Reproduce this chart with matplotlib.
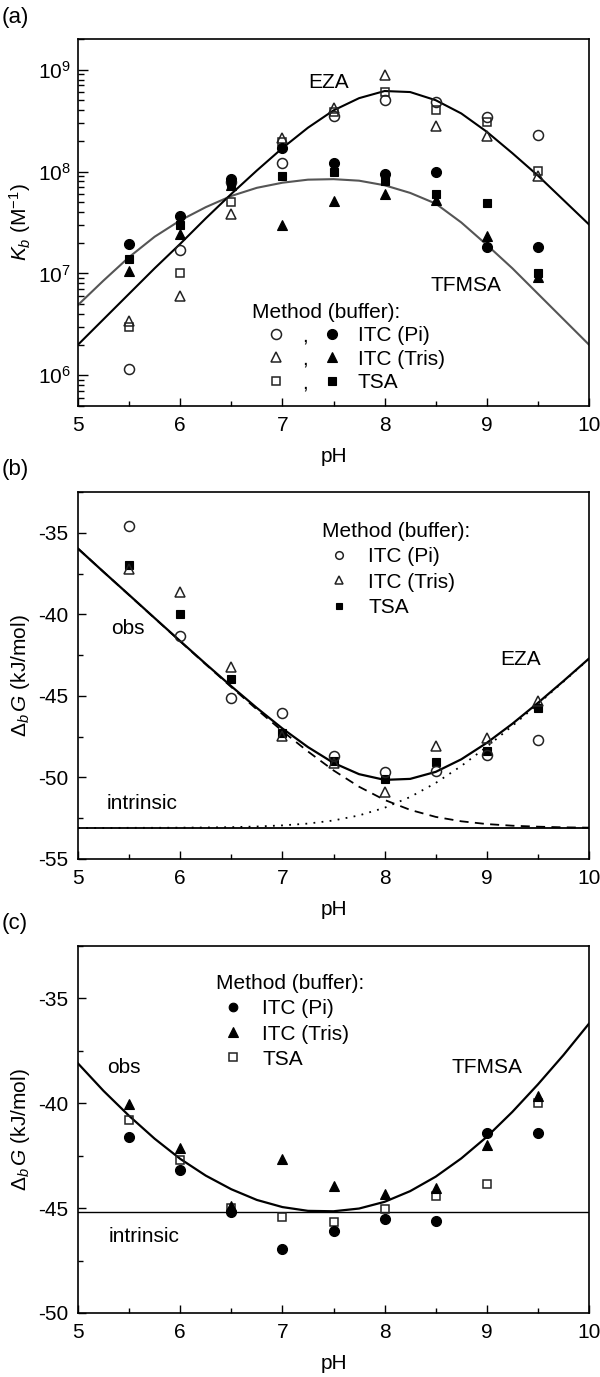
import matplotlib
matplotlib.use('Agg')
import matplotlib.pyplot as plt
from matplotlib.lines import Line2D
from matplotlib.ticker import LogLocator, MultipleLocator, NullFormatter

plt.rcParams['font.family'] = ['Liberation Sans', 'DejaVu Sans']
plt.rcParams['mathtext.fontset'] = 'custom'
plt.rcParams['mathtext.rm'] = 'Liberation Sans'
plt.rcParams['mathtext.it'] = 'Liberation Sans:italic'
plt.rcParams['axes.unicode_minus'] = False
plt.rcParams['font.size'] = 15

# measured pH values
ph = [5.5, 6.0, 6.5, 7.0, 7.5, 8.0, 8.5, 9.0, 9.5]

# (a) Kb (M^-1), EZA = open symbols, TFMSA = filled symbols
eza_pi = [1.16e6, 1.69e7, 7.9e7, 1.2e8, 3.5e8, 5.0e8, 4.8e8, 3.4e8, 2.3e8]
eza_tris = [3.4e6, 6.0e6, 3.8e7, 2.15e8, 4.2e8, 8.8e8, 2.8e8, 2.25e8, 9.0e7]
eza_tsa = [2.95e6, 1.0e7, 5.0e7, 1.95e8, 3.85e8, 6.0e8, 4.0e8, 3.05e8, 1.02e8]
tfmsa_pi = [1.96e7, 3.65e7, 8.4e7, 1.72e8, 1.2e8, 9.4e7, 9.8e7, 1.8e7, 1.8e7]
tfmsa_tris = [1.05e7, 2.42e7, 7.4e7, 3.0e7, 5.1e7, 6.0e7, 5.3e7, 2.35e7, 9.3e6]
tfmsa_tsa = [1.4e7, 3.0e7, 7.7e7, 9.0e7, 1.0e8, 8.0e7, 6.0e7, 4.9e7, 1.0e7]

# fitted curves
ph_fit = [5.0, 5.25, 5.5, 5.75, 6.0, 6.25, 6.5, 6.75, 7.0, 7.25, 7.5,
          7.75, 8.0, 8.25, 8.5, 8.75, 9.0, 9.25, 9.5, 9.75, 10.0]
eza_fit_logK = [6.30, 6.55, 6.80, 7.05, 7.29, 7.54, 7.78, 8.01, 8.23, 8.43, 8.60,
                8.72, 8.79, 8.78, 8.70, 8.57, 8.39, 8.18, 7.96, 7.72, 7.48]
tfmsa_fit_logK = [6.69, 6.93, 7.16, 7.36, 7.52, 7.65, 7.76, 7.84, 7.89, 7.92, 7.925,
                  7.91, 7.865, 7.79, 7.685, 7.50, 7.28, 7.05, 6.80, 6.55, 6.30]

# (b) EZA, dG (kJ/mol)
b_pi = [-34.6, -41.3, -45.1, -46.05, -48.7, -49.65, -49.6, -48.65, -47.7]
b_tris = [-37.2, -38.65, -43.2, -47.45, -49.1, -50.9, -48.1, -47.6, -45.3]
b_tsa = [-36.95, -40.0, -43.95, -47.3, -49.0, -50.1, -49.05, -48.4, -45.75]
b_obs = [-35.97, -37.40, -38.81, -40.23, -41.64, -43.04, -44.41, -45.74, -47.00, -48.14, -49.11,
         -49.80, -50.15, -50.09, -49.66, -48.89, -47.88, -46.71, -45.43, -44.09, -42.71]
b_dash = [-35.97, -37.40, -38.82, -40.24, -41.66, -43.07, -44.46, -45.83, -47.16, -48.41, -49.57,
          -50.57, -51.38, -51.99, -52.42, -52.69, -52.86, -52.96, -53.02, -53.06, -53.08]
b_dot = [-53.10, -53.10, -53.09, -53.09, -53.08, -53.07, -53.05, -53.01, -52.94, -52.83, -52.64,
         -52.33, -51.86, -51.20, -50.34, -49.30, -48.12, -46.84, -45.50, -44.13, -42.73]
b_intrinsic = -53.1

# (c) TFMSA, dG (kJ/mol)
c_pi = [-41.6, -43.2, -45.2, -46.95, -46.1, -45.5, -45.6, -41.4, -41.4]
c_tris = [-40.05, -42.15, -44.9, -42.65, -43.95, -44.35, -44.05, -42.0, -39.65]
c_tsa = [-40.8, -42.7, -45.0, -45.4, -45.65, -45.05, -44.4, -43.85, -40.0]
c_obs = [-38.1, -39.41, -40.6, -41.69, -42.65, -43.45, -44.1, -44.61, -44.95, -45.13, -45.15,
         -45.02, -44.7, -44.19, -43.5, -42.63, -41.6, -40.41, -39.1, -37.70, -36.2]
c_intrinsic = -45.2

edge = '#222222'
ms_c, ms_t, ms_s = 7.2, 7.6, 6.2


def style(ax):
    ax.set_xlim(5, 10)
    ax.xaxis.set_major_locator(MultipleLocator(1))
    ax.xaxis.set_minor_locator(MultipleLocator(0.5))
    ax.tick_params(which='both', direction='in', top=False, right=False, width=1.0, labelsize=15)
    ax.tick_params(which='major', length=5.5, pad=7)
    ax.tick_params(which='minor', length=3.5)
    for s in ax.spines.values():
        s.set_linewidth(1.2)
    ax.set_xlabel('pH', fontsize=15, labelpad=9)


def opn(marker, ms):
    return dict(ls='none', marker=marker, ms=ms, mfc='none', mec=edge, mew=1.1)


def fil(marker, ms):
    return dict(ls='none', marker=marker, ms=ms, mfc='black', mec='black', mew=0.8)


fig = plt.figure(figsize=(6, 13.77), dpi=100)
ax1 = fig.add_axes([0.13, 0.7052, 0.8517, 0.2665])
ax2 = fig.add_axes([0.13, 0.3762, 0.8517, 0.2665])
ax3 = fig.add_axes([0.13, 0.0465, 0.8517, 0.2665])

# ---- (a)
ax1.set_yscale('log')
ax1.plot(ph_fit, [10 ** v for v in tfmsa_fit_logK], color='#555555', lw=1.5)
ax1.plot(ph_fit, [10 ** v for v in eza_fit_logK], color='black', lw=1.5)
ax1.plot(ph, eza_tsa, **opn('s', ms_s))
ax1.plot(ph, eza_tris, **opn('^', ms_t))
ax1.plot(ph, eza_pi, **opn('o', ms_c))
ax1.plot(ph, tfmsa_tsa, **fil('s', ms_s))
ax1.plot(ph, tfmsa_tris, **fil('^', ms_t))
ax1.plot(ph, tfmsa_pi, **fil('o', ms_c))
ax1.set_ylim(5e5, 2e9)
ax1.yaxis.set_major_locator(LogLocator(base=10))
ax1.yaxis.set_minor_locator(LogLocator(base=10, subs=range(2, 10)))
ax1.yaxis.set_minor_formatter(NullFormatter())
style(ax1)
ax1.tick_params(axis='y', which='major', length=7, pad=5)
ax1.tick_params(axis='y', which='minor', length=4)
ax1.set_ylabel(r'$K_b$ (M$^{-1}$)', fontsize=15)
ax1.text(7.45, 10 ** 8.87, 'EZA', ha='center', va='center', fontsize=15)
ax1.text(8.8, 10 ** 6.88, 'TFMSA', ha='center', va='center', fontsize=15)

h_open = [Line2D([], [], **opn('o', ms_c)), Line2D([], [], **opn('^', ms_t)), Line2D([], [], **opn('s', ms_s))]
h_fill = [Line2D([], [], **fil('o', ms_c)), Line2D([], [], **fil('^', ms_t)), Line2D([], [], **fil('s', ms_s))]
ax1.legend(h_open + h_fill, [',', ',', ',', 'ITC (Pi)', 'ITC (Tris)', 'TSA'], ncol=2,
           title='Method (buffer):', title_fontsize=15, fontsize=15, alignment='left',
           loc='upper left', bbox_to_anchor=(0.32, 0.31), frameon=False, borderpad=0,
           handlelength=2.3, handletextpad=0.1, columnspacing=0.0, labelspacing=0.22)

# ---- (b)
ax2.axhline(b_intrinsic, color='black', lw=1.3)
ax2.plot(ph_fit, b_dot, color='black', lw=1.3, ls=(0, (1, 3.5)))
ax2.plot(ph_fit, b_dash, color='black', lw=1.3, ls=(0, (5, 3.5)))
ax2.plot(ph_fit, b_obs, color='black', lw=1.6)
ax2.plot(ph, b_tsa, **fil('s', ms_s))
ax2.plot(ph, b_tris, **opn('^', ms_t))
ax2.plot(ph, b_pi, **opn('o', ms_c))
ax2.set_ylim(-55, -32.5)
ax2.yaxis.set_major_locator(MultipleLocator(5))
ax2.yaxis.set_minor_locator(MultipleLocator(2.5))
style(ax2)
ax2.set_ylabel(r'$\Delta_b\,G$ (kJ/mol)', fontsize=15)
ax2.text(5.49, -40.87, 'obs', ha='center', va='center', fontsize=15)
ax2.text(5.63, -51.57, 'intrinsic', ha='center', va='center', fontsize=15)
ax2.text(9.33, -42.8, 'EZA', ha='center', va='center', fontsize=15)
hb = [Line2D([], [], **opn('o', 5.5)), Line2D([], [], **opn('^', 5.8)), Line2D([], [], **fil('s', 4.8))]
ax2.legend(hb, ['ITC (Pi)', 'ITC (Tris)', 'TSA'], title='Method (buffer):', title_fontsize=15,
           fontsize=15, alignment='left', loc='upper left', bbox_to_anchor=(0.4575, 0.946),
           frameon=False, borderpad=0, handlelength=1.6, handletextpad=0.6, labelspacing=0.3)

# ---- (c)
ax3.axhline(c_intrinsic, color='black', lw=1.0)
ax3.plot(ph_fit, c_obs, color='black', lw=1.6)
ax3.plot(ph, c_tsa, **opn('s', ms_s))
ax3.plot(ph, c_tris, **fil('^', ms_t))
ax3.plot(ph, c_pi, **fil('o', ms_c))
ax3.set_ylim(-50, -32.5)
ax3.yaxis.set_major_locator(MultipleLocator(5))
ax3.yaxis.set_minor_locator(MultipleLocator(2.5))
style(ax3)
ax3.set_ylabel(r'$\Delta_b\,G$ (kJ/mol)', fontsize=15)
ax3.text(5.45, -38.31, 'obs', ha='center', va='center', fontsize=15)
ax3.text(5.65, -46.33, 'intrinsic', ha='center', va='center', fontsize=15)
ax3.text(9.0, -38.31, 'TFMSA', ha='center', va='center', fontsize=15)
hc = [Line2D([], [], **fil('o', 6.2)), Line2D([], [], **fil('^', 6.5)), Line2D([], [], **opn('s', 5.2))]
ax3.legend(hc, ['ITC (Pi)', 'ITC (Tris)', 'TSA'], title='Method (buffer):', title_fontsize=15,
           fontsize=15, alignment='left', loc='upper left', bbox_to_anchor=(0.2505, 0.952),
           frameon=False, borderpad=0, handlelength=1.6, handletextpad=0.6, labelspacing=0.3)

fig.text(0.003, 1 - 17 / 1377, '(a)', ha='left', va='center', fontsize=16)
fig.text(0.003, 1 - 469 / 1377, '(b)', ha='left', va='center', fontsize=16)
fig.text(0.003, 1 - 924 / 1377, '(c)', ha='left', va='center', fontsize=16)

fig.savefig('out.png', dpi=100)
